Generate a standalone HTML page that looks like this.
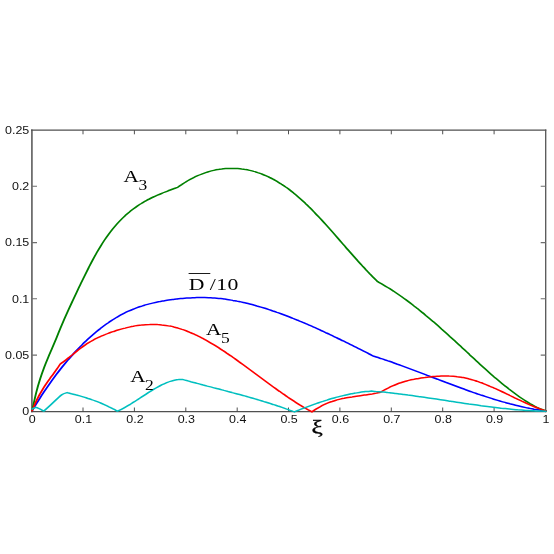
<!DOCTYPE html>
<html><head><meta charset="utf-8"><title>plot</title>
<style>
html,body{margin:0;padding:0;background:#fff;}
body{width:554px;height:554px;overflow:hidden;font-family:"Liberation Sans",sans-serif;}
svg{display:block;}
.t{font-family:"Liberation Sans",sans-serif;font-size:10.4px;fill:#111;}
.s{font-family:"Liberation Serif",serif;font-size:17.4px;fill:#000;}
.sub{font-family:"Liberation Serif",serif;font-size:14px;fill:#000;}
.c{fill:none;stroke-width:1.5;stroke-linejoin:miter;stroke-miterlimit:3;stroke-linecap:round;}
</style></head><body>
<svg width="554" height="554" viewBox="0 0 554 554">
<rect width="554" height="554" fill="#fff"/>
<!-- axes -->
<g stroke="#6e6e6e" stroke-width="1.8" fill="none"><path d="M31.9 129.5V412.2"/></g>
<g stroke="#555" stroke-width="1.3" fill="none"><path d="M545.7 129.5V412.2"/></g>
<g stroke="#505050" stroke-width="1.4" fill="none"><path d="M31 130.1H546.3M31 411.6H546.3"/></g>
<g stroke="#3c3c3c" stroke-width="0.9" fill="none">
<path d="M83.0 411.5v-4M134.4 411.5v-4M185.8 411.5v-4M237.2 411.5v-4M288.5 411.5v-4M339.9 411.5v-4M391.3 411.5v-4M442.7 411.5v-4M494.1 411.5v-4"/>
<path d="M83.0 130.3v4M134.4 130.3v4M185.8 130.3v4M237.2 130.3v4M288.5 130.3v4M339.9 130.3v4M391.3 130.3v4M442.7 130.3v4M494.1 130.3v4"/>
</g>
<g stroke="#6e6e6e" stroke-width="1.1" fill="none">
<path d="M32 355.1h5M32 298.8h5M32 242.6h5M32 186.3h5"/>
<path d="M545.7 355.1h-5M545.7 298.8h-5M545.7 242.6h-5M545.7 186.3h-5"/>
</g>
<!-- curves -->
<g transform="scale(1.25,1)">
<path class="c" stroke="#0000FF" d="M25.68 410.8C26.22 409.7 27.82 406.3 28.89 404.2C29.96 402.0 31.03 399.9 32.10 397.8C33.17 395.7 34.24 393.7 35.31 391.7C36.38 389.7 37.45 387.7 38.53 385.8C39.60 383.9 40.67 382.0 41.74 380.1C42.81 378.3 43.88 376.5 44.95 374.7C46.02 372.9 47.09 371.2 48.16 369.5C49.23 367.8 50.30 366.1 51.37 364.5C52.44 362.9 53.51 361.3 54.58 359.7C55.65 358.2 56.72 356.7 57.79 355.2C58.86 353.7 59.93 352.2 61.00 350.8C62.07 349.4 63.15 348.0 64.22 346.6C65.29 345.3 66.36 343.9 67.43 342.6C68.50 341.3 69.57 340.1 70.64 338.8C71.71 337.6 72.78 336.4 73.85 335.2C74.92 334.1 75.99 332.9 77.06 331.8C78.13 330.7 79.20 329.6 80.27 328.6C81.34 327.5 82.41 326.5 83.48 325.5C84.55 324.5 85.62 323.6 86.69 322.7C87.77 321.7 88.84 320.9 89.91 320.0C90.98 319.1 92.05 318.3 93.12 317.5C94.19 316.7 95.26 316.0 96.33 315.2C97.40 314.5 98.47 313.8 99.54 313.1C100.61 312.4 101.68 311.8 102.75 311.2C103.82 310.6 104.89 310.0 105.96 309.5C107.03 308.9 108.10 308.4 109.17 307.9C110.24 307.4 111.31 306.9 112.38 306.5C113.46 306.1 114.53 305.6 115.60 305.2C116.67 304.8 117.74 304.5 118.81 304.1C119.88 303.8 120.95 303.4 122.02 303.1C123.09 302.8 124.16 302.5 125.23 302.2C126.30 301.9 127.37 301.7 128.44 301.4C129.51 301.2 130.58 300.9 131.65 300.7C132.72 300.5 133.79 300.3 134.86 300.1C135.93 299.9 137.00 299.7 138.08 299.5C139.15 299.3 140.22 299.2 141.29 299.0C142.36 298.9 143.43 298.7 144.50 298.6C145.57 298.5 146.64 298.3 147.71 298.2C148.78 298.1 149.85 298.0 150.92 297.9C151.99 297.9 153.06 297.8 154.13 297.7C155.20 297.7 156.27 297.6 157.34 297.6C158.41 297.6 159.48 297.5 160.55 297.5C161.62 297.5 162.70 297.6 163.77 297.6C164.84 297.6 165.91 297.6 166.98 297.7C168.05 297.8 169.12 297.8 170.19 297.9C171.26 298.0 172.33 298.1 173.40 298.2C174.47 298.3 175.54 298.5 176.61 298.6C177.68 298.8 178.75 298.9 179.82 299.1C180.89 299.3 181.96 299.5 183.03 299.7C184.10 299.9 185.17 300.1 186.24 300.4C187.32 300.6 188.39 300.9 189.46 301.1C190.53 301.4 191.60 301.6 192.67 301.9C193.74 302.2 194.81 302.5 195.88 302.8C196.95 303.1 198.02 303.5 199.09 303.8C200.16 304.1 201.23 304.5 202.30 304.8C203.37 305.2 204.44 305.6 205.51 306.0C206.58 306.3 207.65 306.7 208.72 307.1C209.79 307.5 210.86 307.9 211.94 308.3C213.01 308.8 214.08 309.2 215.15 309.6C216.22 310.1 217.29 310.5 218.36 311.0C219.43 311.4 220.50 311.9 221.57 312.4C222.64 312.8 223.71 313.3 224.78 313.8C225.85 314.3 226.92 314.8 227.99 315.3C229.06 315.8 230.13 316.3 231.20 316.8C232.27 317.3 233.34 317.8 234.41 318.4C235.48 318.9 236.55 319.4 237.63 320.0C238.70 320.5 239.77 321.1 240.84 321.6C241.91 322.2 242.98 322.8 244.05 323.3C245.12 323.9 246.19 324.5 247.26 325.1C248.33 325.7 249.40 326.2 250.47 326.8C251.54 327.4 252.61 328.0 253.68 328.6C254.75 329.2 255.82 329.8 256.89 330.5C257.96 331.1 259.03 331.7 260.10 332.3C261.17 332.9 262.25 333.6 263.32 334.2C264.39 334.8 265.46 335.5 266.53 336.1C267.60 336.7 268.67 337.4 269.74 338.0C270.81 338.7 271.88 339.3 272.95 340.0C274.02 340.6 275.09 341.3 276.16 341.9C277.23 342.6 278.30 343.2 279.37 343.9C280.44 344.6 281.51 345.2 282.58 345.9C283.65 346.6 284.72 347.2 285.79 347.9C286.87 348.6 287.94 349.2 289.01 349.9C290.08 350.6 291.15 351.3 292.22 351.9C293.29 352.6 294.36 353.3 295.43 354.0C296.50 354.6 298.10 355.7 298.64 356.0C299.18 356.2 300.78 356.9 301.85 357.3C302.92 357.7 304.00 358.2 305.07 358.6C306.14 359.0 307.21 359.5 308.28 360.0C309.35 360.4 310.42 360.9 311.49 361.3C312.56 361.8 313.63 362.3 314.71 362.7C315.78 363.2 316.85 363.7 317.92 364.2C318.99 364.6 320.06 365.1 321.13 365.6C322.20 366.1 323.27 366.6 324.34 367.1C325.42 367.6 326.49 368.1 327.56 368.6C328.63 369.1 329.70 369.6 330.77 370.1C331.84 370.6 332.91 371.1 333.98 371.6C335.05 372.1 336.13 372.6 337.20 373.1C338.27 373.6 339.34 374.1 340.41 374.6C341.48 375.2 342.55 375.7 343.62 376.2C344.69 376.7 345.76 377.2 346.84 377.7C347.91 378.2 348.98 378.7 350.05 379.2C351.12 379.8 352.19 380.3 353.26 380.8C354.33 381.3 355.40 381.8 356.47 382.3C357.55 382.8 358.62 383.3 359.69 383.8C360.76 384.3 361.83 384.8 362.90 385.3C363.97 385.8 365.04 386.3 366.11 386.8C367.18 387.3 368.26 387.8 369.33 388.3C370.40 388.8 371.47 389.3 372.54 389.7C373.61 390.2 374.68 390.7 375.75 391.2C376.82 391.7 377.89 392.1 378.97 392.6C380.04 393.1 381.11 393.5 382.18 394.0C383.25 394.4 384.32 394.9 385.39 395.3C386.46 395.8 387.53 396.2 388.60 396.6C389.68 397.1 390.75 397.5 391.82 397.9C392.89 398.4 393.96 398.8 395.03 399.2C396.10 399.6 397.17 400.0 398.24 400.4C399.31 400.8 400.39 401.2 401.46 401.6C402.53 402.0 403.60 402.3 404.67 402.7C405.74 403.1 406.81 403.4 407.88 403.8C408.95 404.1 410.02 404.5 411.10 404.8C412.17 405.2 413.24 405.5 414.31 405.8C415.38 406.1 416.45 406.4 417.52 406.7C418.59 407.0 419.66 407.3 420.73 407.6C421.81 407.9 422.88 408.1 423.95 408.4C425.02 408.7 426.09 408.9 427.16 409.2C428.23 409.4 429.30 409.6 430.37 409.8C431.44 410.1 432.52 410.3 433.59 410.5C434.66 410.6 436.26 410.9 436.80 411.0"/>
<path class="c" stroke="#008000" d="M25.68 410.8C26.22 407.8 27.84 398.3 28.92 392.9C29.99 387.6 31.07 383.0 32.15 378.8C33.23 374.5 34.31 370.8 35.39 367.2C36.47 363.6 37.54 360.4 38.62 357.2C39.70 353.9 40.78 351.0 41.86 347.8C42.94 344.6 44.01 341.4 45.09 338.2C46.17 334.9 47.25 331.6 48.33 328.3C49.41 325.1 50.49 321.9 51.56 318.8C52.64 315.7 53.72 312.7 54.80 309.7C55.88 306.8 56.96 303.9 58.04 301.0C59.11 298.1 60.19 295.2 61.27 292.4C62.35 289.6 63.43 286.8 64.51 284.0C65.59 281.2 66.66 278.4 67.74 275.7C68.82 273.0 69.90 270.3 70.98 267.6C72.06 265.0 73.13 262.4 74.21 259.9C75.29 257.4 76.37 254.9 77.45 252.5C78.53 250.2 79.61 247.9 80.68 245.8C81.76 243.6 82.84 241.5 83.92 239.5C85.00 237.6 86.08 235.7 87.16 233.8C88.23 232.0 89.31 230.3 90.39 228.6C91.47 227.0 92.55 225.4 93.63 223.9C94.71 222.4 95.78 221.0 96.86 219.6C97.94 218.2 99.02 216.9 100.10 215.7C101.18 214.5 102.25 213.3 103.33 212.2C104.41 211.0 105.49 210.0 106.57 209.0C107.65 208.0 108.73 207.0 109.80 206.1C110.88 205.2 111.96 204.3 113.04 203.5C114.12 202.6 115.20 201.9 116.28 201.1C117.35 200.4 118.43 199.6 119.51 199.0C120.59 198.3 121.67 197.6 122.75 197.0C123.83 196.4 124.90 195.8 125.98 195.2C127.06 194.6 128.14 194.0 129.22 193.5C130.30 192.9 131.37 192.4 132.45 191.9C133.53 191.4 134.61 190.8 135.69 190.3C136.77 189.8 137.85 189.3 138.92 188.8C140.00 188.3 141.62 187.6 142.16 187.3C142.69 186.8 144.29 185.4 145.36 184.6C146.43 183.7 147.49 182.8 148.56 182.0C149.63 181.2 150.69 180.4 151.76 179.7C152.83 179.0 153.89 178.3 154.96 177.6C156.03 176.9 157.09 176.3 158.16 175.7C159.23 175.1 160.29 174.6 161.36 174.1C162.43 173.6 163.49 173.1 164.56 172.6C165.63 172.2 166.69 171.8 167.76 171.4C168.83 171.0 169.89 170.7 170.96 170.4C172.03 170.1 173.09 169.8 174.16 169.6C175.23 169.3 176.29 169.1 177.36 169.0C178.43 168.8 179.49 168.7 180.56 168.6C181.63 168.5 182.69 168.4 183.76 168.4C184.83 168.4 185.89 168.4 186.96 168.4C188.03 168.4 189.09 168.5 190.16 168.6C191.23 168.7 192.29 168.8 193.36 169.0C194.43 169.1 195.49 169.3 196.56 169.6C197.63 169.8 198.69 170.1 199.76 170.4C200.83 170.7 201.89 171.0 202.96 171.4C204.03 171.7 205.09 172.1 206.16 172.6C207.23 173.0 208.29 173.5 209.36 174.0C210.43 174.5 211.49 175.0 212.56 175.6C213.63 176.2 214.69 176.8 215.76 177.5C216.83 178.1 217.89 178.8 218.96 179.5C220.03 180.2 221.09 181.0 222.16 181.8C223.23 182.6 224.29 183.4 225.36 184.3C226.43 185.1 227.49 186.0 228.56 187.0C229.63 187.9 230.69 188.9 231.76 189.9C232.83 190.9 233.89 192.0 234.96 193.1C236.03 194.1 237.09 195.3 238.16 196.4C239.23 197.6 240.29 198.7 241.36 199.9C242.43 201.2 243.49 202.4 244.56 203.7C245.63 204.9 246.69 206.2 247.76 207.6C248.83 208.9 249.89 210.2 250.96 211.6C252.03 213.0 253.09 214.3 254.16 215.8C255.23 217.2 256.29 218.6 257.36 220.0C258.43 221.5 259.49 223.0 260.56 224.4C261.63 225.9 262.69 227.4 263.76 228.9C264.83 230.4 265.89 231.9 266.96 233.4C268.03 235.0 269.09 236.5 270.16 238.0C271.23 239.6 272.29 241.1 273.36 242.6C274.43 244.1 275.49 245.7 276.56 247.2C277.63 248.7 278.69 250.3 279.76 251.8C280.83 253.3 281.89 254.8 282.96 256.3C284.03 257.8 285.09 259.3 286.16 260.8C287.23 262.2 288.29 263.7 289.36 265.1C290.43 266.6 291.49 268.0 292.56 269.5C293.63 270.9 294.69 272.3 295.76 273.7C296.83 275.0 297.89 276.4 298.96 277.7C300.03 279.1 301.63 281.0 302.16 281.7C302.69 282.1 304.30 283.2 305.37 283.9C306.43 284.7 307.50 285.5 308.57 286.3C309.64 287.1 310.71 287.9 311.78 288.7C312.85 289.5 313.91 290.4 314.98 291.3C316.05 292.2 317.12 293.1 318.19 294.0C319.26 294.9 320.33 295.8 321.39 296.7C322.46 297.7 323.53 298.7 324.60 299.6C325.67 300.6 326.74 301.6 327.81 302.6C328.87 303.6 329.94 304.6 331.01 305.7C332.08 306.7 333.15 307.8 334.22 308.8C335.29 309.9 336.35 311.0 337.42 312.1C338.49 313.1 339.56 314.2 340.63 315.4C341.70 316.5 342.77 317.6 343.83 318.7C344.90 319.8 345.97 321.0 347.04 322.1C348.11 323.3 349.18 324.5 350.25 325.6C351.31 326.8 352.38 328.0 353.45 329.2C354.52 330.3 355.59 331.5 356.66 332.7C357.73 333.9 358.79 335.1 359.86 336.4C360.93 337.6 362.00 338.8 363.07 340.0C364.14 341.2 365.21 342.5 366.27 343.7C367.34 344.9 368.41 346.2 369.48 347.4C370.55 348.6 371.62 349.9 372.69 351.1C373.75 352.4 374.82 353.6 375.89 354.9C376.96 356.1 378.03 357.4 379.10 358.6C380.17 359.8 381.23 361.1 382.30 362.3C383.37 363.5 384.44 364.8 385.51 366.0C386.58 367.2 387.65 368.4 388.71 369.6C389.78 370.8 390.85 372.0 391.92 373.2C392.99 374.4 394.06 375.5 395.13 376.7C396.19 377.8 397.26 379.0 398.33 380.1C399.40 381.2 400.47 382.3 401.54 383.4C402.61 384.5 403.67 385.6 404.74 386.6C405.81 387.7 406.88 388.8 407.95 389.8C409.02 390.8 410.09 391.8 411.15 392.8C412.22 393.8 413.29 394.8 414.36 395.7C415.43 396.7 416.50 397.6 417.57 398.5C418.63 399.4 419.70 400.3 420.77 401.1C421.84 402.0 422.91 402.8 423.98 403.6C425.05 404.3 426.11 405.1 427.18 405.8C428.25 406.5 429.32 407.2 430.39 407.8C431.46 408.4 432.53 409.0 433.59 409.5C434.66 410.1 436.27 410.8 436.80 411.0"/>
<path class="c" stroke="#FF0000" d="M25.68 410.8C26.15 409.4 27.56 405.0 28.50 402.5C29.44 399.9 30.38 397.6 31.32 395.4C32.26 393.2 33.20 391.2 34.14 389.3C35.08 387.3 36.02 385.6 36.96 383.8C37.90 382.1 38.84 380.5 39.78 378.9C40.72 377.2 41.66 375.7 42.60 374.1C43.54 372.5 44.48 370.9 45.42 369.2C46.36 367.5 47.77 364.9 48.24 364.0C48.78 363.5 50.40 362.1 51.49 361.1C52.57 360.1 53.65 359.0 54.73 357.9C55.82 356.9 56.90 355.7 57.98 354.7C59.06 353.6 60.14 352.5 61.23 351.4C62.31 350.3 63.39 349.2 64.47 348.2C65.55 347.2 66.64 346.2 67.72 345.3C68.80 344.4 69.88 343.5 70.97 342.7C72.05 341.8 73.13 341.0 74.21 340.3C75.29 339.5 76.38 338.8 77.46 338.2C78.54 337.5 79.62 336.9 80.70 336.3C81.79 335.7 82.87 335.1 83.95 334.6C85.03 334.0 86.12 333.5 87.20 333.0C88.28 332.5 89.36 332.1 90.44 331.6C91.53 331.2 92.61 330.7 93.69 330.3C94.77 329.9 95.85 329.5 96.94 329.1C98.02 328.7 99.10 328.4 100.18 328.1C101.27 327.7 102.35 327.4 103.43 327.1C104.51 326.8 105.59 326.5 106.68 326.3C107.76 326.0 108.84 325.8 109.92 325.6C111.00 325.4 112.09 325.2 113.17 325.1C114.25 324.9 115.33 324.8 116.42 324.7C117.50 324.6 118.58 324.5 119.66 324.5C120.74 324.4 121.83 324.4 122.91 324.4C123.99 324.5 125.07 324.5 126.15 324.6C127.24 324.6 128.32 324.7 129.40 324.9C130.48 325.0 131.57 325.2 132.65 325.4C133.73 325.6 134.81 325.8 135.89 326.1C136.98 326.3 138.06 326.6 139.14 327.0C140.22 327.3 141.30 327.7 142.39 328.1C143.47 328.5 144.55 328.9 145.63 329.4C146.72 329.8 147.80 330.3 148.88 330.8C149.96 331.3 151.04 331.9 152.13 332.5C153.21 333.0 154.29 333.6 155.37 334.2C156.46 334.9 157.54 335.5 158.62 336.2C159.70 336.8 160.78 337.5 161.87 338.2C162.95 339.0 164.03 339.7 165.11 340.4C166.19 341.2 167.28 342.0 168.36 342.8C169.44 343.6 170.52 344.4 171.61 345.2C172.69 346.0 173.77 346.9 174.85 347.7C175.93 348.6 177.02 349.5 178.10 350.4C179.18 351.2 180.26 352.1 181.34 353.1C182.43 354.0 183.51 354.9 184.59 355.8C185.67 356.8 186.76 357.7 187.84 358.7C188.92 359.6 190.00 360.6 191.08 361.6C192.17 362.5 193.25 363.5 194.33 364.5C195.41 365.5 196.49 366.5 197.58 367.5C198.66 368.5 199.74 369.5 200.82 370.5C201.91 371.5 202.99 372.5 204.07 373.5C205.15 374.5 206.23 375.5 207.32 376.5C208.40 377.5 209.48 378.5 210.56 379.5C211.64 380.5 212.73 381.5 213.81 382.5C214.89 383.5 215.97 384.5 217.06 385.5C218.14 386.5 219.22 387.5 220.30 388.4C221.38 389.4 222.47 390.4 223.55 391.3C224.63 392.3 225.71 393.2 226.79 394.2C227.88 395.1 228.96 396.1 230.04 397.0C231.12 397.9 232.21 398.8 233.29 399.7C234.37 400.6 235.45 401.5 236.53 402.3C237.62 403.2 238.70 404.0 239.78 404.9C240.86 405.7 241.94 406.5 243.03 407.3C244.11 408.1 245.19 408.9 246.27 409.7C247.36 410.4 248.98 411.5 249.52 411.9C250.06 411.4 251.67 410.0 252.75 409.1C253.82 408.3 254.90 407.5 255.98 406.8C257.05 406.0 258.13 405.3 259.20 404.7C260.28 404.1 261.36 403.5 262.43 402.9C263.51 402.4 264.59 401.9 265.66 401.5C266.74 401.0 267.81 400.6 268.89 400.2C269.97 399.8 271.04 399.5 272.12 399.1C273.19 398.8 274.27 398.5 275.35 398.3C276.42 398.0 277.50 397.7 278.57 397.5C279.65 397.3 280.73 397.1 281.80 396.9C282.88 396.6 283.95 396.5 285.03 396.3C286.11 396.1 287.18 395.9 288.26 395.7C289.33 395.5 290.41 395.3 291.49 395.1C292.56 394.9 293.64 394.8 294.72 394.5C295.79 394.3 296.87 394.1 297.94 393.9C299.02 393.6 300.10 393.4 301.17 393.1C302.25 392.8 303.86 392.4 304.40 392.2C304.94 391.8 306.55 390.6 307.63 389.9C308.71 389.1 309.78 388.4 310.86 387.8C311.93 387.1 313.01 386.5 314.09 385.9C315.16 385.3 316.24 384.7 317.32 384.2C318.39 383.7 319.47 383.2 320.55 382.8C321.62 382.3 322.70 381.9 323.78 381.5C324.85 381.1 325.93 380.8 327.00 380.4C328.08 380.1 329.16 379.8 330.23 379.6C331.31 379.3 332.39 379.0 333.46 378.8C334.54 378.6 335.62 378.3 336.69 378.1C337.77 377.9 338.85 377.7 339.92 377.6C341.00 377.4 342.07 377.2 343.15 377.1C344.23 376.9 345.30 376.8 346.38 376.6C347.46 376.5 348.53 376.4 349.61 376.3C350.69 376.2 351.76 376.2 352.84 376.1C353.92 376.1 354.99 376.0 356.07 376.0C357.14 376.0 358.22 376.0 359.30 376.1C360.37 376.1 361.45 376.2 362.53 376.3C363.60 376.4 364.68 376.5 365.76 376.7C366.83 376.8 367.91 377.0 368.99 377.2C370.06 377.5 371.14 377.7 372.21 378.0C373.29 378.3 374.37 378.6 375.44 379.0C376.52 379.3 377.60 379.7 378.67 380.1C379.75 380.5 380.83 381.0 381.90 381.4C382.98 381.9 384.06 382.3 385.13 382.8C386.21 383.3 387.28 383.9 388.36 384.4C389.44 384.9 390.51 385.5 391.59 386.1C392.67 386.6 393.74 387.2 394.82 387.8C395.90 388.4 396.97 389.0 398.05 389.6C399.13 390.3 400.20 390.9 401.28 391.5C402.35 392.2 403.43 392.8 404.51 393.4C405.58 394.1 406.66 394.7 407.74 395.4C408.81 396.0 409.89 396.7 410.97 397.3C412.04 398.0 413.12 398.6 414.20 399.3C415.27 399.9 416.35 400.5 417.42 401.2C418.50 401.8 419.58 402.4 420.65 403.0C421.73 403.6 422.81 404.2 423.88 404.8C424.96 405.4 426.04 406.0 427.11 406.5C428.19 407.1 429.27 407.6 430.34 408.1C431.42 408.7 432.49 409.2 433.57 409.6C434.65 410.1 436.26 410.8 436.80 411.0"/>
<path class="c" stroke="#00BFBF" d="M25.68 409.0C26.24 408.8 27.47 407.1 29.04 407.5C30.61 407.9 34.11 410.5 35.12 411.1C36.29 409.8 39.80 405.8 42.16 403.1C44.52 400.4 47.33 396.6 49.28 394.9C51.23 393.1 53.08 393.0 53.84 392.6C54.40 392.8 56.06 393.3 57.17 393.7C58.28 394.0 59.40 394.4 60.51 394.8C61.62 395.1 62.73 395.5 63.84 395.9C64.95 396.3 66.06 396.7 67.17 397.1C68.28 397.6 69.40 398.0 70.51 398.5C71.62 398.9 72.73 399.4 73.84 399.9C74.95 400.3 76.06 400.9 77.17 401.4C78.28 401.9 79.40 402.5 80.51 403.0C81.62 403.6 82.73 404.2 83.84 404.8C84.95 405.4 86.06 406.1 87.17 406.8C88.28 407.4 89.40 408.1 90.51 408.9C91.62 409.6 93.28 410.8 93.84 411.2C94.38 410.9 96.01 410.0 97.10 409.3C98.19 408.6 99.27 407.9 100.36 407.1C101.45 406.4 102.53 405.6 103.62 404.8C104.71 403.9 105.79 403.1 106.88 402.2C107.97 401.4 109.05 400.5 110.14 399.6C111.23 398.7 112.31 397.8 113.40 396.9C114.49 396.0 115.57 395.2 116.66 394.3C117.75 393.4 118.83 392.5 119.92 391.7C121.01 390.8 122.09 390.0 123.18 389.2C124.27 388.4 125.35 387.6 126.44 386.8C127.53 386.1 128.61 385.4 129.70 384.7C130.79 384.1 131.87 383.5 132.96 382.9C134.05 382.4 135.13 381.8 136.22 381.4C137.31 381.0 138.39 380.6 139.48 380.3C140.57 380.0 141.65 379.7 142.74 379.6C143.83 379.4 145.46 379.4 146.00 379.4C146.55 379.6 148.21 380.2 149.32 380.5C150.42 380.9 151.53 381.3 152.63 381.7C153.74 382.0 154.84 382.4 155.95 382.8C157.05 383.2 158.16 383.5 159.26 383.9C160.37 384.3 161.47 384.6 162.58 385.0C163.68 385.3 164.79 385.7 165.89 386.1C167.00 386.4 168.10 386.8 169.21 387.1C170.31 387.5 171.42 387.9 172.52 388.2C173.63 388.6 174.73 388.9 175.84 389.3C176.95 389.7 178.05 390.0 179.16 390.4C180.26 390.7 181.37 391.1 182.47 391.5C183.58 391.8 184.68 392.2 185.79 392.6C186.89 392.9 188.00 393.3 189.10 393.7C190.21 394.1 191.31 394.4 192.42 394.8C193.52 395.2 194.63 395.6 195.73 395.9C196.84 396.3 197.94 396.7 199.05 397.1C200.15 397.5 201.26 397.9 202.36 398.3C203.47 398.7 204.57 399.1 205.68 399.5C206.79 399.9 207.89 400.3 209.00 400.7C210.10 401.1 211.21 401.6 212.31 402.0C213.42 402.4 214.52 402.8 215.63 403.3C216.73 403.7 217.84 404.2 218.94 404.6C220.05 405.1 221.15 405.5 222.26 406.0C223.36 406.4 224.47 406.9 225.57 407.4C226.68 407.9 227.78 408.4 228.89 408.9C229.99 409.3 231.10 409.8 232.20 410.4C233.31 410.9 234.97 411.6 235.52 411.9C236.06 411.6 237.68 410.8 238.77 410.3C239.85 409.7 240.93 409.2 242.01 408.6C243.09 408.1 244.18 407.6 245.26 407.1C246.34 406.6 247.42 406.1 248.51 405.6C249.59 405.1 250.67 404.6 251.75 404.1C252.83 403.6 253.92 403.2 255.00 402.7C256.08 402.2 257.16 401.8 258.24 401.4C259.33 400.9 260.41 400.5 261.49 400.1C262.57 399.6 263.65 399.2 264.74 398.8C265.82 398.4 266.90 398.1 267.98 397.7C269.07 397.3 270.15 397.0 271.23 396.6C272.31 396.3 273.39 395.9 274.48 395.6C275.56 395.3 276.64 395.0 277.72 394.7C278.80 394.4 279.89 394.1 280.97 393.8C282.05 393.6 283.13 393.3 284.21 393.1C285.30 392.8 286.38 392.6 287.46 392.4C288.54 392.2 289.63 392.0 290.71 391.8C291.79 391.7 292.87 391.5 293.95 391.4C295.04 391.2 296.66 391.1 297.20 391.0C297.74 391.1 299.36 391.2 300.45 391.4C301.53 391.5 302.61 391.6 303.69 391.7C304.78 391.9 305.86 392.0 306.94 392.1C308.02 392.3 309.10 392.4 310.19 392.6C311.27 392.7 312.35 392.9 313.43 393.0C314.51 393.2 315.60 393.3 316.68 393.5C317.76 393.7 318.84 393.8 319.93 394.0C321.01 394.2 322.09 394.3 323.17 394.5C324.25 394.7 325.34 394.9 326.42 395.1C327.50 395.2 328.58 395.4 329.67 395.6C330.75 395.8 331.83 396.0 332.91 396.2C333.99 396.4 335.08 396.5 336.16 396.7C337.24 396.9 338.32 397.1 339.40 397.3C340.49 397.5 341.57 397.7 342.65 397.9C343.73 398.1 344.82 398.3 345.90 398.5C346.98 398.7 348.06 398.9 349.14 399.1C350.23 399.3 351.31 399.5 352.39 399.7C353.47 399.9 354.56 400.1 355.64 400.3C356.72 400.5 357.80 400.7 358.88 400.9C359.97 401.1 361.05 401.4 362.13 401.6C363.21 401.8 364.29 402.0 365.38 402.2C366.46 402.4 367.54 402.6 368.62 402.8C369.71 403.0 370.79 403.2 371.87 403.4C372.95 403.6 374.03 403.8 375.12 404.0C376.20 404.1 377.28 404.3 378.36 404.5C379.44 404.7 380.53 404.9 381.61 405.1C382.69 405.3 383.77 405.5 384.86 405.7C385.94 405.8 387.02 406.0 388.10 406.2C389.18 406.4 390.27 406.6 391.35 406.7C392.43 406.9 393.51 407.1 394.60 407.2C395.68 407.4 396.76 407.6 397.84 407.7C398.92 407.9 400.01 408.0 401.09 408.2C402.17 408.3 403.25 408.5 404.33 408.6C405.42 408.8 406.50 408.9 407.58 409.0C408.66 409.2 409.75 409.3 410.83 409.4C411.91 409.5 412.99 409.6 414.07 409.8C415.16 409.9 416.24 410.0 417.32 410.1C418.40 410.2 419.49 410.3 420.57 410.4C421.65 410.4 422.73 410.5 423.81 410.6C424.90 410.7 425.98 410.8 427.06 410.8C428.14 410.9 429.22 410.9 430.31 411.0C431.39 411.0 432.47 411.1 433.55 411.1C434.64 411.2 436.26 411.2 436.80 411.2"/>
</g>
<!-- x tick labels -->
<g class="t" text-anchor="middle" style="opacity:0.995"><path d="M0 0h1" stroke="#fff" stroke-width="0.1"/>
<text transform="translate(32.1,422.7) scale(1.2,1)">0</text>
<text transform="translate(83.5,422.7) scale(1.2,1)">0.1</text>
<text transform="translate(134.9,422.7) scale(1.2,1)">0.2</text>
<text transform="translate(186.3,422.7) scale(1.2,1)">0.3</text>
<text transform="translate(237.7,422.7) scale(1.2,1)">0.4</text>
<text transform="translate(289.1,422.7) scale(1.2,1)">0.5</text>
<text transform="translate(340.4,422.7) scale(1.2,1)">0.6</text>
<text transform="translate(391.8,422.7) scale(1.2,1)">0.7</text>
<text transform="translate(443.2,422.7) scale(1.2,1)">0.8</text>
<text transform="translate(494.6,422.7) scale(1.2,1)">0.9</text>
<text transform="translate(546.0,422.7) scale(1.2,1)">1</text>
</g>
<g class="t" text-anchor="end" style="opacity:0.995"><path d="M0 0h1" stroke="#fff" stroke-width="0.1"/>
<text transform="translate(29.3,415.1) scale(1.2,1)">0</text>
<text transform="translate(29.3,358.9) scale(1.2,1)">0.05</text>
<text transform="translate(29.3,302.6) scale(1.2,1)">0.1</text>
<text transform="translate(29.3,246.4) scale(1.2,1)">0.15</text>
<text transform="translate(29.3,190.1) scale(1.2,1)">0.2</text>
<text transform="translate(29.3,133.9) scale(1.2,1)">0.25</text>
</g>
<!-- labels -->
<g style="opacity:0.995">
<text class="s" transform="translate(123.4,182.1) scale(1.22,1)">A</text>
<text class="sub" transform="translate(138.4,190.3) scale(1.25,1)">3</text>
<text class="s" transform="translate(206,334.7) scale(1.22,1)">A</text>
<text class="sub" transform="translate(221,342.7) scale(1.25,1)">5</text>
<text class="s" transform="translate(130.2,381.6) scale(1.22,1)">A</text>
<text class="sub" transform="translate(145,389.8) scale(1.25,1)">2</text>
<text class="s" transform="translate(188.8,290.2) scale(1.25,1)">D</text>
<text class="s" transform="translate(209.8,290.2) scale(1.25,1)">/</text>
<text class="s" transform="translate(216.3,290.2) scale(1.25,1)">1</text>
<text class="s" transform="translate(227.5,290.2) scale(1.25,1)">0</text>
<path d="M188.6 273.5H210.3" stroke="#1a1a1a" stroke-width="1"/>
<text class="s" style="font-size:19.5px;stroke:#000;stroke-width:0.35px" transform="translate(311.5,432.6) scale(1.3,1)">ξ</text>
</g>
</svg>
</body></html>
